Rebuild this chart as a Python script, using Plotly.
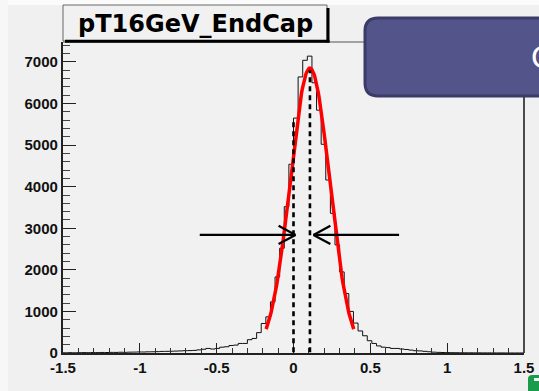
import plotly.graph_objects as go
import math

# ---------------- data ----------------
bin_lo, bin_hi, n_bins = -1.5, 1.5, 100
counts = [5, 8, 6, 9, 10, 8, 12, 10, 13, 12,
          15, 14, 18, 16, 20, 22, 25, 24, 28, 30,
          33, 38, 40, 42, 46, 50, 55, 58, 62, 75,
          90, 110, 95, 110, 140, 150, 180, 190, 230, 230,
          320, 350, 490, 710, 870, 1230, 1830, 2520, 3520, 4540,
          5650, 6640, 7040, 7140, 6500, 5840, 5020, 4160, 3360, 2600,
          1950, 1430, 1000, 720, 530, 415, 295, 230, 170, 140,
          130, 110, 110, 95, 85, 70, 55, 50, 40, 30,
          20, 15, 12, 10, 8, 7, 6, 5, 5, 4,
          4, 3, 3, 2, 2, 2, 1, 1, 1, 1]

# Gaussian fit parameters
fit_amplitude = 6850
fit_mean = 0.107
fit_sigma = 0.128
fit_range = [-0.178, 0.392]

# marker lines / arrows
dash_x = [0.0, fit_mean]
dash_top = [5550, 6800]
arrow_y = 2840
left_arrow_x = [-0.61, 0.013]
right_arrow_x = [0.687, 0.13]

x_ticks = [-1.5, -1, -0.5, 0, 0.5, 1, 1.5]
x_ticklabels = ["-1.5", "-1", "-0.5", "0", "0.5", "1", "1.5"]
y_ticks = [0, 1000, 2000, 3000, 4000, 5000, 6000, 7000]
y_ticklabels = ["0", "1000", "2000", "3000", "4000", "5000", "6000", "7000"]
title_text = "pT16GeV_EndCap"

# ---------------- build ----------------
W, H = 539, 391
L, R, T, B = 63, 524, 42, 353


def px(xpix):
    return (xpix - L) / (R - L)


def py(ypix):
    return (B - ypix) / (B - T)


bw = (bin_hi - bin_lo) / n_bins
edges = [bin_lo + i * bw for i in range(n_bins + 1)]
step_x = edges
step_y = counts + [counts[-1]]

fig = go.Figure()
fig.add_trace(go.Scatter(x=step_x, y=step_y, mode="lines", line_shape="hv",
                         line=dict(color="#111111", width=1), hoverinfo="skip"))

n_fit = 120
fx = [fit_range[0] + (fit_range[1] - fit_range[0]) * i / (n_fit - 1) for i in range(n_fit)]
fy = [fit_amplitude * math.exp(-0.5 * ((v - fit_mean) / fit_sigma) ** 2) for v in fx]
fig.add_trace(go.Scatter(x=fx, y=fy, mode="lines",
                         line=dict(color="#ff0000", width=3.5), hoverinfo="skip"))

shapes = []
# dashed lines
for xv, top in zip(dash_x, dash_top):
    shapes.append(dict(type="line", xref="x", yref="y", x0=xv, x1=xv, y0=-200, y1=top,
                       line=dict(color="black", width=2.6, dash="5px,4px")))
# arrows
ah_dx, ah_dy = 0.11, 220
for xs in (left_arrow_x, right_arrow_x):
    x0, tip = xs
    sgn = 1 if tip > x0 else -1
    shapes.append(dict(type="line", xref="x", yref="y", x0=x0, x1=tip, y0=arrow_y, y1=arrow_y,
                       line=dict(color="black", width=2.2)))
    for d in (1, -1):
        shapes.append(dict(type="line", xref="x", yref="y", x0=tip - sgn * ah_dx, x1=tip,
                           y0=arrow_y + d * ah_dy, y1=arrow_y,
                           line=dict(color="black", width=2.2)))

# frame: right and top
shapes.append(dict(type="line", xref="paper", yref="paper", x0=1, x1=1, y0=0, y1=1,
                   line=dict(color="#222222", width=1.6)))
shapes.append(dict(type="line", xref="paper", yref="paper", x0=0, x1=1, y0=1, y1=1,
                   line=dict(color="#555555", width=1)))

# page edges (slightly lighter)
shapes.append(dict(type="rect", xref="paper", yref="paper", x0=px(0), x1=px(W), y0=py(5), y1=py(0),
                   line=dict(width=0), fillcolor="#fbfbfb", layer="above"))
shapes.append(dict(type="rect", xref="paper", yref="paper", x0=px(0), x1=px(8), y0=py(H), y1=py(0),
                   line=dict(width=0), fillcolor="#f7f7f7", layer="above"))

# title box
shapes.append(dict(type="rect", xref="paper", yref="paper", x0=px(63), x1=px(327), y0=py(41), y1=py(5),
                   line=dict(color="#666666", width=1), fillcolor="#f1f1f1", layer="above"))
shapes.append(dict(type="line", xref="paper", yref="paper", x0=px(65), x1=px(329.5), y0=py(41.3), y1=py(41.3),
                   line=dict(color="black", width=3), layer="above"))
shapes.append(dict(type="line", xref="paper", yref="paper", x0=px(328), x1=px(328), y0=py(8), y1=py(42.5),
                   line=dict(color="black", width=3), layer="above"))

# blue rounded box
bx0, bx1, by0, by1, rr = 365, 575, 18, 96, 13
path = (f"M {px(bx0+rr)},{py(by0)} L {px(bx1-rr)},{py(by0)} "
        f"Q {px(bx1)},{py(by0)} {px(bx1)},{py(by0+rr)} L {px(bx1)},{py(by1-rr)} "
        f"Q {px(bx1)},{py(by1)} {px(bx1-rr)},{py(by1)} L {px(bx0+rr)},{py(by1)} "
        f"Q {px(bx0)},{py(by1)} {px(bx0)},{py(by1-rr)} L {px(bx0)},{py(by0+rr)} "
        f"Q {px(bx0)},{py(by0)} {px(bx0+rr)},{py(by0)} Z")
shapes.append(dict(type="path", xref="paper", yref="paper", path=path,
                   line=dict(color="#3b3b68", width=3), fillcolor="#535489", layer="above"))

# green corner icon
gx0, gx1, gy0, gy1, gr = 528, 548, 375, 398, 4
gpath = (f"M {px(gx0+gr)},{py(gy0)} L {px(gx1)},{py(gy0)} L {px(gx1)},{py(gy1)} "
         f"L {px(gx0)},{py(gy1)} L {px(gx0)},{py(gy0+gr)} Q {px(gx0)},{py(gy0)} {px(gx0+gr)},{py(gy0)} Z")
shapes.append(dict(type="path", xref="paper", yref="paper", path=gpath,
                   line=dict(width=0), fillcolor="#1a9b4b", layer="above"))
shapes.append(dict(type="rect", xref="paper", yref="paper", x0=px(534), x1=px(545), y0=py(381), y1=py(378),
                   line=dict(width=0), fillcolor="#f4f4f4", layer="above"))

annotations = [
    dict(text=title_text, xref="paper", yref="paper", x=px(76), y=py(24), xanchor="left", yanchor="middle",
         showarrow=False, font=dict(family="DejaVu Sans", size=24, color="black", weight="bold")),
    dict(text="C", xref="paper", yref="paper", x=px(529), y=py(57), xanchor="left", yanchor="middle",
         showarrow=False, font=dict(family="Liberation Sans", size=32, color="white")),
]

tickfont = dict(family="Liberation Sans", size=15, color="#111111", weight="bold")
fig.update_layout(
    width=W, height=H, autosize=False,
    margin=dict(l=L, r=W - R, t=T, b=H - B, pad=0, autoexpand=False),
    paper_bgcolor="#f0f0f0", plot_bgcolor="#f1f1f1",
    showlegend=False, shapes=shapes, annotations=annotations,
    xaxis=dict(range=[bin_lo, bin_hi], tickvals=x_ticks, ticktext=x_ticklabels, automargin=False,
               ticks="inside", ticklen=10, tickwidth=1.3, tickcolor="#222222",
               minor=dict(dtick=0.1, tick0=0, ticks="inside", ticklen=5, tickwidth=1.1, tickcolor="#333333"),
               showgrid=False, zeroline=False, showline=True, linecolor="#222222", linewidth=2.2,
               tickfont=tickfont, fixedrange=True),
    yaxis=dict(range=[0, 7480], tickvals=y_ticks, ticktext=y_ticklabels, automargin=False,
               ticks="inside", ticklen=13, tickwidth=1.3, tickcolor="#222222",
               minor=dict(dtick=200, tick0=0, ticks="inside", ticklen=7, tickwidth=1.1, tickcolor="#444444"),
               showgrid=False, zeroline=False, showline=True, linecolor="#222222", linewidth=2.2,
               tickfont=tickfont, fixedrange=True),
)

fig.write_html("out.html")
